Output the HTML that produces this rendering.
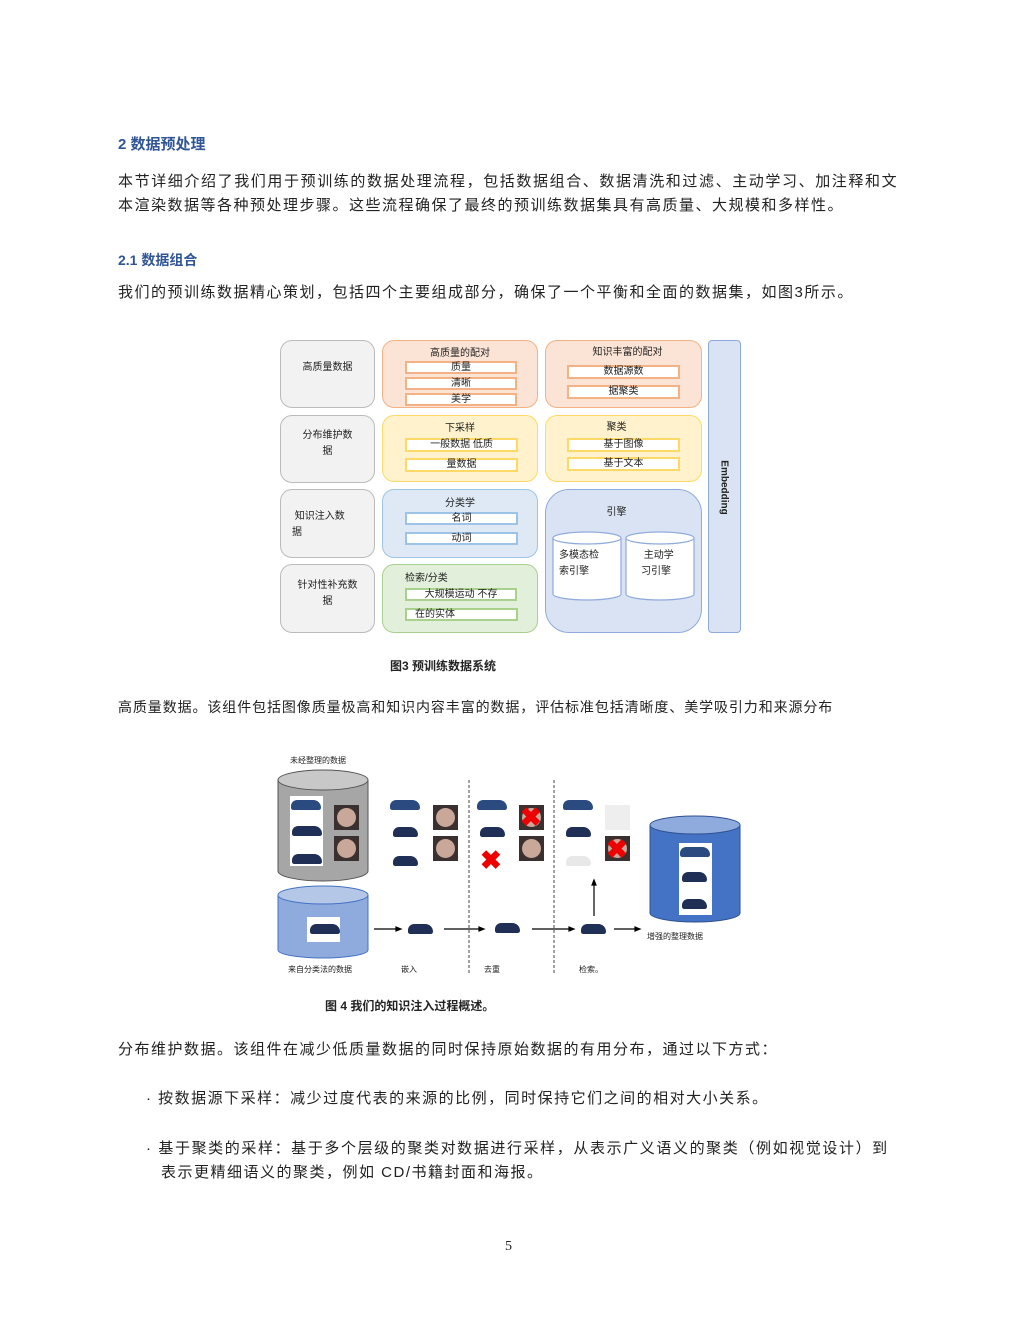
<!DOCTYPE html>
<html><head><meta charset="utf-8"><style>
body{margin:0;width:1020px;height:1320px;background:#fff;position:relative;font-family:"Liberation Sans","Noto Sans CJK SC",sans-serif;color:#222;overflow:hidden}
.t{position:absolute;white-space:nowrap}
.h{color:#2f5597;font-weight:bold;font-size:15px}
.p{font-size:15px;letter-spacing:1.5px}
.b{position:absolute;box-sizing:border-box;border-radius:12px;border:1.5px solid}
.i{position:absolute;box-sizing:border-box;background:#fff;border:2px solid;font-size:10px;text-align:center;line-height:10px}
.l{position:absolute;font-size:10px;text-align:center;line-height:16px}
.car{position:absolute;width:30px;height:10px;background:#1f2f55;border-radius:8px 10px 3px 3px}
.w{position:absolute;width:25px;height:25px;background:#3a3030}
.w:after{content:"";position:absolute;left:3px;top:3px;width:19px;height:19px;border-radius:50%;background:#c9a89a}
.x{position:absolute;color:#e00;font-weight:bold;font-size:26px;line-height:26px}
</style></head><body>
<div class="t h" style="left:118px;top:133px">2 数据预处理</div>
<div class="t p" style="left:118px;top:170px;letter-spacing:1.6px">本节详细介绍了我们用于预训练的数据处理流程，包括数据组合、数据清洗和过滤、主动学习、加注释和文</div>
<div class="t p" style="left:118px;top:194px">本渲染数据等各种预处理步骤。这些流程确保了最终的预训练数据集具有高质量、大规模和多样性。</div>
<div class="t h" style="left:118px;top:250px;font-size:14px">2.1 数据组合</div>
<div class="t p" style="left:118px;top:281px">我们的预训练数据精心策划，包括四个主要组成部分，确保了一个平衡和全面的数据集，如图3所示。</div>

<div class="b" style="left:280px;top:340px;width:95px;height:68px;background:#f2f2f2;border-color:#bbb"></div>
<div class="l" style="left:280px;top:360px;width:95px">高质量数据</div>
<div class="b" style="left:280px;top:415px;width:95px;height:68px;background:#f2f2f2;border-color:#bbb"></div>
<div class="l" style="left:280px;top:428px;width:95px">分布维护数<br>据</div>
<div class="b" style="left:280px;top:489px;width:95px;height:69px;background:#f2f2f2;border-color:#bbb"></div>
<div class="l" style="left:292px;top:509px;text-align:left">&nbsp;知识注入数<br>据</div>
<div class="b" style="left:280px;top:564px;width:95px;height:69px;background:#f2f2f2;border-color:#bbb"></div>
<div class="l" style="left:280px;top:578px;width:95px">针对性补充数<br>据</div>

<div class="b" style="left:382px;top:340px;width:156px;height:68px;background:#fbe4d6;border-color:#f4b183"></div>
<div class="l" style="left:382px;top:346px;width:156px">高质量的配对</div>
<div class="i" style="left:405px;top:361px;width:112px;height:13px;border-color:#f4b183">质量</div>
<div class="i" style="left:405px;top:377px;width:112px;height:13px;border-color:#f4b183">清晰</div>
<div class="i" style="left:405px;top:393px;width:112px;height:13px;border-color:#f4b183">美学</div>

<div class="b" style="left:545px;top:340px;width:157px;height:68px;background:#fbe4d6;border-color:#f4b183"></div>
<div class="l" style="left:545px;top:345px;width:165px">知识丰富的配对</div>
<div class="i" style="left:567px;top:365px;width:113px;height:14px;border-color:#f4b183">数据源数</div>
<div class="i" style="left:567px;top:385px;width:113px;height:14px;border-color:#f4b183">据聚类</div>

<div class="b" style="left:382px;top:415px;width:156px;height:67px;background:#fff2cc;border-color:#ffd966"></div>
<div class="l" style="left:382px;top:421px;width:156px">下采样</div>
<div class="i" style="left:405px;top:438px;width:113px;height:14px;border-color:#ffd966">一般数据 低质</div>
<div class="i" style="left:405px;top:458px;width:113px;height:14px;border-color:#ffd966">量数据</div>

<div class="b" style="left:545px;top:415px;width:157px;height:67px;background:#fff2cc;border-color:#ffd966"></div>
<div class="l" style="left:545px;top:420px;width:143px">聚类</div>
<div class="i" style="left:567px;top:438px;width:113px;height:14px;border-color:#ffd966">基于图像</div>
<div class="i" style="left:567px;top:457px;width:113px;height:14px;border-color:#ffd966">基于文本</div>

<div class="b" style="left:382px;top:489px;width:156px;height:69px;background:#dfe9f6;border-color:#9dc3e6"></div>
<div class="l" style="left:382px;top:496px;width:156px">分类学</div>
<div class="i" style="left:405px;top:512px;width:113px;height:13px;border-color:#9dc3e6">名词</div>
<div class="i" style="left:405px;top:532px;width:113px;height:13px;border-color:#9dc3e6">动词</div>

<div class="b" style="left:382px;top:564px;width:156px;height:69px;background:#e2efda;border-color:#a9d18e"></div>
<div class="l" style="left:405px;top:571px;text-align:left">检索/分类</div>
<div class="i" style="left:405px;top:588px;width:112px;height:13px;border-color:#a9d18e">大规模运动 不存</div>
<div class="i" style="left:405px;top:608px;width:113px;height:13px;border-color:#a9d18e;text-align:left;padding-left:8px">在的实体</div>

<div class="b" style="left:545px;top:489px;width:157px;height:144px;background:#dae3f3;border-color:#8faadc;border-radius:24px"></div>
<div class="l" style="left:545px;top:505px;width:143px">引擎</div>
<svg style="position:absolute;left:550px;top:530px" width="150" height="72">
<g fill="#fff" stroke="#8faadc" stroke-width="1.2">
<path d="M3,8 v56 a34,6 0 0 0 68,0 v-56"/><ellipse cx="37" cy="8" rx="34" ry="6"/>
<path d="M76,8 v56 a34,6 0 0 0 68,0 v-56"/><ellipse cx="110" cy="8" rx="34" ry="6"/>
</g></svg>
<div class="l" style="left:559px;top:548px;text-align:left">多模态检<br>索引擎</div>
<div class="l" style="left:641px;top:548px;text-align:left">&nbsp;主动学<br>习引擎</div>

<div class="b" style="left:708px;top:340px;width:33px;height:293px;background:#dae3f3;border-color:#8faadc;border-radius:4px"></div>
<div class="t" style="left:697px;top:482px;font-size:10px;font-weight:bold;transform:rotate(90deg);transform-origin:center">Embedding</div>

<div class="t" style="left:390px;top:657px;font-size:12px;font-weight:bold">图3 预训练数据系统</div>
<div class="t p" style="left:118px;top:697px;font-size:14px;letter-spacing:0.9px">高质量数据。该组件包括图像质量极高和知识内容丰富的数据，评估标准包括清晰度、美学吸引力和来源分布</div>

<svg style="position:absolute;left:270px;top:750px" width="480" height="230">
<g stroke="#555" stroke-width="1"><path d="M8,30 v91 a45,10 0 0 0 90,0 v-91" fill="#a6a6a6"/><ellipse cx="53" cy="30" rx="45" ry="10" fill="#c8c8c8"/></g>
<g stroke="#4472c4" stroke-width="1"><path d="M8,145 v55 a45,8 0 0 0 90,0 v-55" fill="#8faadc"/><ellipse cx="53" cy="145" rx="45" ry="9" fill="#b4c7e7"/></g>
<g stroke="#2f528f" stroke-width="1"><path d="M380,75 v88 a45,9 0 0 0 90,0 v-88" fill="#4472c4"/><ellipse cx="425" cy="75" rx="45" ry="9" fill="#8faadc"/></g>
<g stroke="#444" stroke-width="1" stroke-dasharray="3,2"><line x1="199" y1="30" x2="199" y2="225"/><line x1="284" y1="30" x2="284" y2="225"/></g>
<g stroke="#000" stroke-width="1.2" fill="#000">
<line x1="104" y1="179" x2="128" y2="179"/><path d="M131,179 l-5,-2 v4z"/>
<line x1="174" y1="179" x2="210" y2="179"/><path d="M214,179 l-5,-2 v4z"/>
<line x1="262" y1="179" x2="300" y2="179"/><path d="M304,179 l-5,-2 v4z"/>
<line x1="344" y1="179" x2="366" y2="179"/><path d="M370,179 l-5,-2 v4z"/>
<line x1="324" y1="166" x2="324" y2="134"/><path d="M324,130 l-2,5 h4z"/>
</g>
</svg>
<div class="t" style="left:290px;top:755px;font-size:8px">未经整理的数据</div>
<div class="t" style="left:288px;top:964px;font-size:8px">来自分类法的数据</div>
<div class="t" style="left:401px;top:964px;font-size:8px">嵌入</div>
<div class="t" style="left:484px;top:964px;font-size:8px">去重</div>
<div class="t" style="left:579px;top:964px;font-size:8px">检索。</div>
<div class="t" style="left:647px;top:931px;font-size:8px">增强的整理数据</div>
<div style="position:absolute;left:290px;top:796px;width:33px;height:70px;background:#fff"></div>
<div style="position:absolute;left:307px;top:917px;width:33px;height:25px;background:#fff"></div>
<div style="position:absolute;left:679px;top:843px;width:33px;height:72px;background:#fff"></div>
<div class="car" style="left:291px;top:800px;background:#2a4a80"></div>
<div class="car" style="left:292px;top:826px"></div>
<div class="car" style="left:292px;top:854px"></div>
<div class="w" style="left:334px;top:805px"></div><div class="w" style="left:334px;top:836px"></div>
<div class="car" style="left:310px;top:924px"></div>
<div class="car" style="left:390px;top:800px;background:#2a4a80"></div>
<div class="car" style="left:393px;top:827px;width:25px"></div>
<div class="car" style="left:393px;top:856px;width:25px"></div>
<div class="w" style="left:433px;top:805px"></div><div class="w" style="left:433px;top:836px"></div>
<div class="car" style="left:477px;top:800px;background:#2a4a80"></div>
<div class="car" style="left:480px;top:827px;width:25px"></div>
<div class="w" style="left:519px;top:805px"></div><div class="w" style="left:519px;top:836px"></div>
<div class="x" style="left:520px;top:804px">✖</div>
<div class="x" style="left:480px;top:847px">✖</div>
<div class="car" style="left:563px;top:800px;background:#2a4a80"></div>
<div class="car" style="left:566px;top:827px;width:25px"></div>
<div class="car" style="left:566px;top:856px;width:25px;background:#e8e8e8"></div>
<div style="position:absolute;left:605px;top:805px;width:25px;height:25px;background:#eee"></div>
<div class="w" style="left:605px;top:836px"></div>
<div class="x" style="left:606px;top:836px">✖</div>
<div class="car" style="left:408px;top:924px;width:25px"></div>
<div class="car" style="left:495px;top:923px;width:25px"></div>
<div class="car" style="left:581px;top:924px;width:25px"></div>
<div class="car" style="left:680px;top:847px;background:#2a4a80"></div>
<div class="car" style="left:682px;top:872px;width:25px"></div>
<div class="car" style="left:682px;top:899px;width:25px"></div>

<div class="t" style="left:325px;top:997px;font-size:12px;font-weight:bold">图 4 我们的知识注入过程概述。</div>
<div class="t p" style="left:118px;top:1038px">分布维护数据。该组件在减少低质量数据的同时保持原始数据的有用分布，通过以下方式：</div>
<div class="t p" style="left:146px;top:1087px">· 按数据源下采样：减少过度代表的来源的比例，同时保持它们之间的相对大小关系。</div>
<div class="t p" style="left:146px;top:1137px;letter-spacing:1.6px">· 基于聚类的采样：基于多个层级的聚类对数据进行采样，从表示广义语义的聚类（例如视觉设计）到</div>
<div class="t p" style="left:161px;top:1161px">表示更精细语义的聚类，例如 CD/书籍封面和海报。</div>
<div class="t" style="left:505px;top:1239px;font-size:14px;font-family:'Liberation Serif',serif">5</div>
</body></html>
